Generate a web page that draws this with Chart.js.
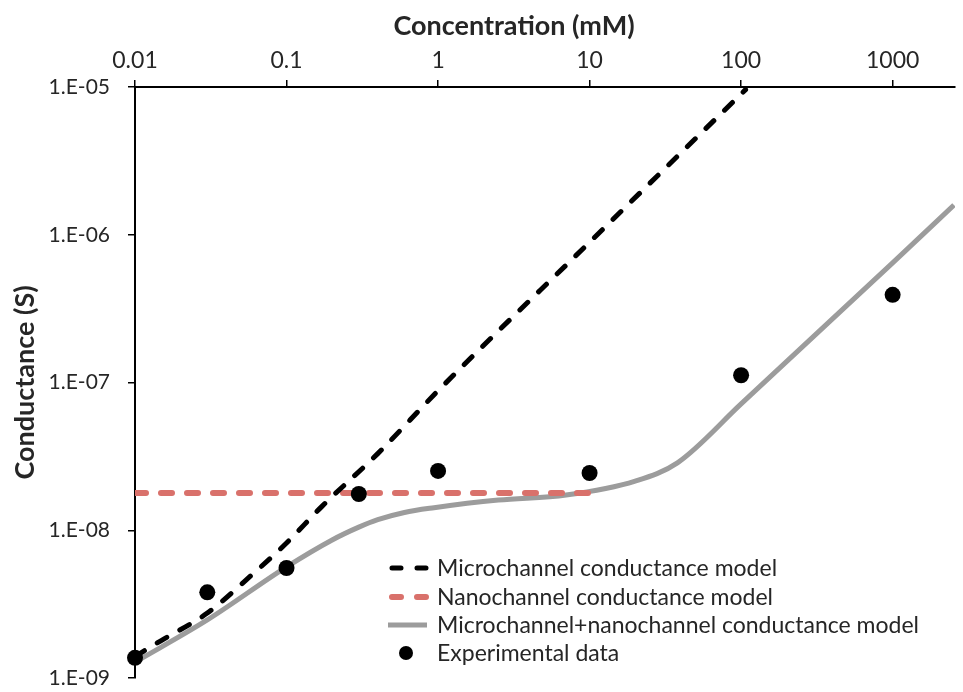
<!DOCTYPE html>
<html><head><meta charset="utf-8">
<script src="https://cdn.jsdelivr.net/npm/chart.js@4/dist/chart.umd.min.js"></script>
<style>html,body{margin:0;padding:0;background:#fff;overflow:hidden;} #wrap{width:963px;height:692px;position:relative;}</style>
</head><body><div id="wrap"><canvas id="c" width="963" height="692"></canvas></div>
<script>
// ---- data ----
const seriesLabels = [
  'Microchannel conductance model',
  'Nanochannel conductance model',
  'Microchannel+nanochannel conductance model',
  'Experimental data'
];
const concMicro = [0.01, 0.015, 0.03, 0.054, 0.1, 0.17, 0.4, 1, 10, 107];
const condMicro = [1.4e-9, 1.8e-9, 2.75e-9, 4.6e-9, 8.2e-9, 1.44e-8, 3.3e-8, 8.8e-8, 8.9e-7, 9.6e-6];
const concNano = [0.01, 11];
const condNano = [1.79e-8, 1.79e-8];
const concCombined = [0.01, 0.03, 0.1, 0.2, 0.3, 0.4, 0.6, 0.94, 2.5, 7, 20, 38, 100, 1000, 2540];
const condCombined = [1.28e-9, 2.47e-9, 5.65e-9, 8.6e-9, 1.05e-8, 1.18e-8, 1.32e-8, 1.42e-8, 1.6e-8, 1.73e-8, 2.15e-8, 2.86e-8, 7.16e-8, 6.45e-7, 1.59e-6];
const concExp = [0.01, 0.03, 0.1, 0.3, 1, 10, 100, 1000];
const condExp = [1.37e-9, 3.8e-9, 5.55e-9, 1.76e-8, 2.52e-8, 2.44e-8, 1.12e-7, 3.92e-7];
const xTickValues = [0.01, 0.1, 1, 10, 100, 1000];
const xTickLabels = ['0.01', '0.1', '1', '10', '100', '1000'];
const yTickValues = [1e-9, 1e-8, 1e-7, 1e-6, 1e-5];
const yTickLabels = ['1.E-09', '1.E-08', '1.E-07', '1.E-06', '1.E-05'];
const xTitle = 'Concentration (mM)';
const yTitle = 'Conductance (S)';

const pts = (xs, ys) => xs.map((x, i) => ({x: x, y: ys[i]}));
const TEXT = '#262626';
const FONT = 'Lato, "Open Sans", sans-serif';

const styles = [
  {color: '#000000', width: 5, dash: [11, 15], type: 'line'},
  {color: '#d9716b', width: 6, dash: [11, 15], type: 'line'},
  {color: '#9c9c9c', width: 5, dash: [], type: 'line'},
  {color: '#000000', radius: 8, type: 'dot'}
];

const legendPlugin = {
  id: 'innerLegend',
  afterDraw(chart) {
    const ctx = chart.ctx;
    const a = chart.chartArea;
    // x-axis title (placed as in the reference, left of the plot centre)
    ctx.save();
    ctx.fillStyle = TEXT;
    ctx.font = 'bold 27px ' + FONT;
    ctx.textAlign = 'center';
    ctx.textBaseline = 'middle';
    ctx.fillText(xTitle, a.left + 379, 26);
    ctx.restore();

    const x0 = a.left + 250, x1 = a.left + 292, tx = a.left + 302;
    const rowY = [a.bottom - 110, a.bottom - 81, a.bottom - 53, a.bottom - 25];
    ctx.save();
    seriesLabels.forEach((lab, i) => {
      const s = styles[i], y = rowY[i];
      if (s.type === 'line') {
        ctx.beginPath();
        ctx.strokeStyle = s.color;
        ctx.lineWidth = s.width;
        ctx.lineCap = s.dash.length ? 'round' : 'butt';
        ctx.setLineDash(s.dash.length ? [9, 16] : []);
        ctx.lineDashOffset = -4;
        ctx.moveTo(x0 + 3, y); ctx.lineTo(x1, y);
        ctx.stroke();
      } else {
        ctx.beginPath();
        ctx.fillStyle = s.color;
        ctx.arc((x0 + x1) / 2, y, 7, 0, Math.PI * 2);
        ctx.fill();
      }
      ctx.setLineDash([]);
      ctx.fillStyle = TEXT;
      ctx.font = '23px ' + FONT;
      ctx.textAlign = 'left';
      ctx.textBaseline = 'middle';
      ctx.fillText(lab, tx, y + 1);
    });
    ctx.restore();
  }
};

new Chart(document.getElementById('c'), {
  type: 'scatter',
  data: {
    datasets: [
      {label: seriesLabels[0], data: pts(concMicro, condMicro), showLine: true, borderColor: styles[0].color,
       borderWidth: styles[0].width, borderDash: styles[0].dash, borderCapStyle: 'round', pointRadius: 0,
       cubicInterpolationMode: 'monotone', order: 1},
      {label: seriesLabels[1], data: pts(concNano, condNano), showLine: true, borderColor: styles[1].color,
       borderWidth: styles[1].width, borderDash: styles[1].dash, borderCapStyle: 'round', pointRadius: 0, order: 2},
      {label: seriesLabels[2], data: pts(concCombined, condCombined), showLine: true, borderColor: styles[2].color,
       borderWidth: styles[2].width, pointRadius: 0, cubicInterpolationMode: 'monotone', order: 3},
      {label: seriesLabels[3], data: pts(concExp, condExp), showLine: false, backgroundColor: styles[3].color,
       borderColor: styles[3].color, pointRadius: styles[3].radius, pointBorderWidth: 0, clip: false, order: 0}
    ]
  },
  options: {
    responsive: false,
    animation: false,
    devicePixelRatio: 1,
    layout: {padding: {left: 0, right: 0, top: 0, bottom: 14}},
    plugins: {legend: {display: false}, tooltip: {enabled: false}},
    scales: {
      x: {
        type: 'logarithmic', position: 'top', min: 0.01, max: 2580,
        afterBuildTicks: s => { s.ticks = xTickValues.map(v => ({value: v})); },
        afterFit: s => { s.height = 87; s.paddingLeft = 0; s.paddingRight = 0; },
        ticks: {
          autoSkip: false, maxRotation: 0, padding: 6, color: TEXT,
          font: {family: FONT, size: 23},
          callback: (v) => { const i = xTickValues.indexOf(v); return i >= 0 ? xTickLabels[i] : ''; }
        },
        grid: {drawOnChartArea: false, drawTicks: true, tickLength: 7, color: '#000', lineWidth: 1.5},
        border: {display: true, color: '#000', width: 2},
        title: {display: false}
      },
      y: {
        type: 'logarithmic', position: 'left', min: 1e-9, max: 1e-5,
        afterBuildTicks: s => { s.ticks = yTickValues.map(v => ({value: v})); },
        afterFit: s => { s.width = 135; s.paddingTop = 0; s.paddingBottom = 0; },
        ticks: {
          autoSkip: false, padding: 18, color: TEXT,
          font: {family: FONT, size: 21},
          callback: (v) => { const i = yTickValues.findIndex(t => Math.abs(t - v) / t < 1e-6); return i >= 0 ? yTickLabels[i] : ''; }
        },
        grid: {drawOnChartArea: false, drawTicks: true, tickLength: 7, color: '#000', lineWidth: 1.5},
        border: {display: true, color: '#000', width: 2},
        title: {display: true, text: yTitle, color: TEXT, font: {family: FONT, size: 27, weight: 'bold'}, padding: {top: 9, bottom: 0}}
      }
    }
  },
  plugins: [legendPlugin]
});
</script>
</body></html>
